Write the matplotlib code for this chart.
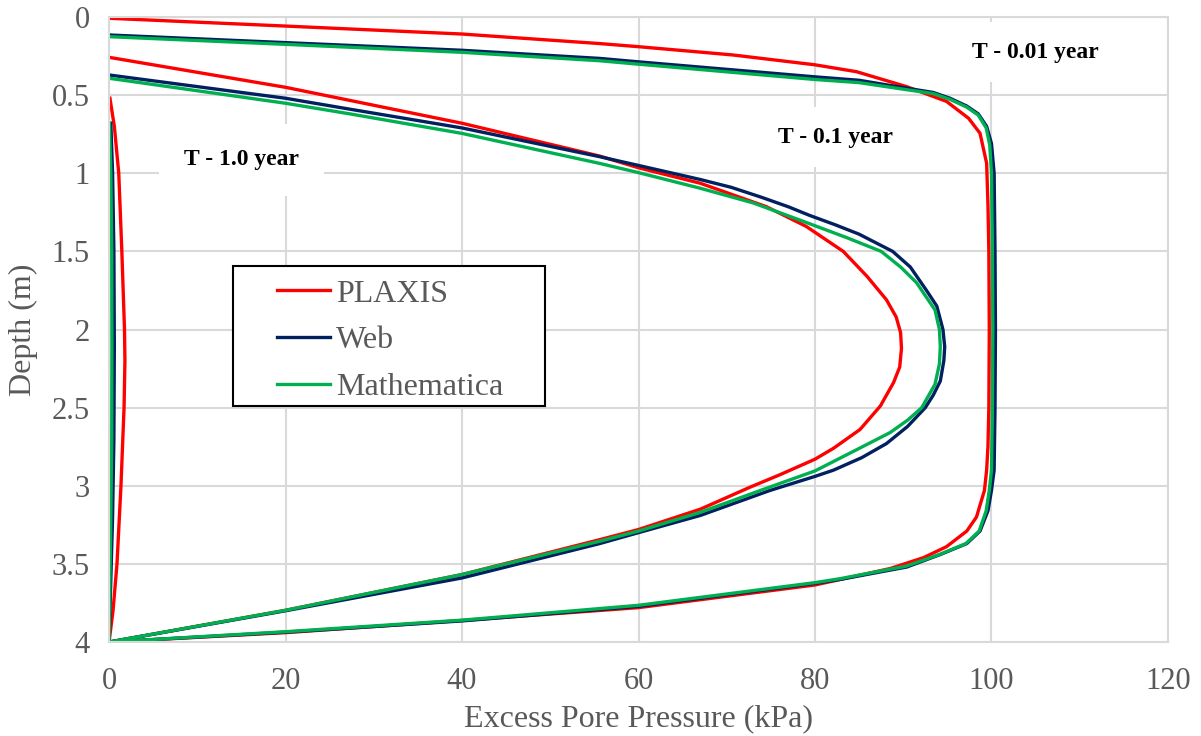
import matplotlib
matplotlib.use("Agg")
import matplotlib.pyplot as plt
from matplotlib.patches import Rectangle

# T = 0.01 year
plaxis_u_001 = [0, 20, 40, 55.6, 60, 70.7, 80, 84.7, 90.4, 94.9, 97.4, 98.7, 99.45, 99.6, 99.7, 99.75, 99.7, 99.6, 99.45, 99.2, 98.3, 97.2, 94.9, 92.3, 88.5, 80, 60, 40, 20, 0]
plaxis_z_001 = [0.008, 0.058, 0.109, 0.17, 0.19, 0.243, 0.306, 0.35, 0.446, 0.54, 0.648, 0.744, 0.936, 1.2, 1.5, 2.0, 2.5, 2.75, 2.9, 3.03, 3.2, 3.29, 3.39, 3.46, 3.53, 3.635, 3.78, 3.862, 3.94, 4.0]
web_u_001 = [0, 20, 40, 55.6, 60, 80, 85, 90, 93.4, 95.3, 97.2, 98.5, 99.45, 100.0, 100.3, 100.4, 100.45, 100.4, 100.3, 100.0, 99.6, 98.7, 97.2, 94.2, 90.4, 82.8, 80, 60, 40, 20, 0]
web_z_001 = [0.115, 0.164, 0.213, 0.265, 0.287, 0.383, 0.405, 0.452, 0.483, 0.52, 0.57, 0.62, 0.70, 0.81, 1.0, 1.5, 2.0, 2.5, 2.9, 3.03, 3.16, 3.29, 3.37, 3.44, 3.52, 3.60, 3.625, 3.772, 3.865, 3.937, 4.0]
math_u_001 = [0, 20, 40, 55.6, 60, 80, 85, 90, 93.4, 95.3, 97.2, 98.5, 99.4, 99.8, 100.0, 100.1, 100.15, 100.1, 100.0, 99.75, 99.4, 98.6, 97.1, 94.1, 90.3, 82.8, 80, 60, 40, 20, 0]
math_z_001 = [0.126, 0.175, 0.226, 0.28, 0.302, 0.40, 0.42, 0.462, 0.49, 0.527, 0.577, 0.628, 0.71, 0.82, 1.0, 1.5, 2.0, 2.5, 2.9, 3.03, 3.16, 3.29, 3.37, 3.44, 3.515, 3.595, 3.62, 3.765, 3.86, 3.934, 4.0]

# T = 0.1 year
plaxis_u_01 = [0, 20, 27.4, 40, 55.6, 60, 67, 74.5, 79, 83.2, 85.9, 88.1, 89.2, 89.7, 89.8, 89.6, 88.9, 87.4, 85.1, 82.1, 80, 76, 72.6, 67, 60, 55.6, 40, 20, 0]
plaxis_z_01 = [0.258, 0.45, 0.535, 0.68, 0.89, 0.965, 1.064, 1.214, 1.34, 1.5, 1.66, 1.81, 1.92, 2.02, 2.12, 2.24, 2.34, 2.49, 2.64, 2.76, 2.83, 2.93, 3.01, 3.15, 3.28, 3.345, 3.568, 3.797, 4.0]
web_u_01 = [0, 20, 27.4, 40, 55.6, 60, 67, 70.5, 74, 77, 79.4, 82.3, 85, 88.8, 90.8, 92.6, 93.8, 94.5, 94.7, 94.6, 94.2, 93.4, 92.5, 90.5, 88.1, 85.3, 82.1, 80, 74.9, 67, 60, 55.6, 40, 20, 0]
web_z_01 = [0.371, 0.52, 0.591, 0.71, 0.894, 0.95, 1.04, 1.09, 1.155, 1.215, 1.27, 1.33, 1.39, 1.5, 1.6, 1.747, 1.85, 2.0, 2.11, 2.2, 2.33, 2.42, 2.5, 2.62, 2.73, 2.82, 2.90, 2.94, 3.03, 3.19, 3.30, 3.37, 3.59, 3.80, 4.0]
math_u_01 = [0, 20, 27.4, 40, 55.6, 60, 67, 73, 78.3, 83.5, 87.5, 89.7, 91.5, 93.6, 94.1, 94.2, 94.1, 93.6, 92.1, 90.5, 88.5, 84, 80, 74.3, 67, 60, 55.6, 40, 20, 0]
math_z_01 = [0.392, 0.552, 0.621, 0.745, 0.937, 0.996, 1.096, 1.19, 1.30, 1.41, 1.5, 1.6, 1.70, 1.875, 2.0, 2.11, 2.22, 2.35, 2.50, 2.58, 2.66, 2.79, 2.905, 3.02, 3.17, 3.29, 3.355, 3.568, 3.797, 4.0]

# T = 1.0 year
plaxis_u_1 = [0.1, 0.6, 1.1, 1.45, 1.75, 1.8, 1.7, 1.35, 0.9, 0.45, 0]
plaxis_z_1 = [0.52, 0.7, 1.0, 1.5, 2.0, 2.2, 2.5, 3.0, 3.5, 3.8, 4.0]
web_u_1 = [0.2, 0.4, 0.55, 0.6, 0.55, 0.4, 0.2, 0]
web_z_1 = [0.68, 1.0, 1.5, 2.1, 2.7, 3.2, 3.6, 4.0]
math_u_1 = [0.05, 0.2, 0.3, 0.32, 0.3, 0.2, 0.1, 0]
math_z_1 = [0.68, 1.0, 1.5, 2.1, 2.7, 3.2, 3.6, 4.0]

plt.rcParams['font.family'] = ['Liberation Serif', 'DejaVu Serif']

fig = plt.figure(figsize=(12.01, 7.36), dpi=100)
ax = fig.add_axes([0.0908, 0.1277, 0.8817, 0.8492])

red = '#FF0000'
navy = '#002060'
green = '#00B050'
lw = 2.4

ax.plot(plaxis_u_001, plaxis_z_001, color=red, lw=lw, label='PLAXIS')
ax.plot(plaxis_u_01, plaxis_z_01, color=red, lw=lw)
ax.plot(plaxis_u_1, plaxis_z_1, color=red, lw=lw)
ax.plot(web_u_001, web_z_001, color=navy, lw=lw, label='Web')
ax.plot(web_u_01, web_z_01, color=navy, lw=lw)
ax.plot(web_u_1, web_z_1, color=navy, lw=lw)
ax.plot(math_u_001, math_z_001, color=green, lw=lw, label='Mathematica')
ax.plot(math_u_01, math_z_01, color=green, lw=lw)
ax.plot(math_u_1, math_z_1, color=green, lw=lw)

ax.set_xlim(0, 120)
ax.set_ylim(4, 0)
ax.set_xticks(range(0, 121, 20))
ax.set_yticks([0, 0.5, 1, 1.5, 2, 2.5, 3, 3.5, 4])
ax.set_yticklabels(['0', '0.5', '1', '1.5', '2', '2.5', '3', '3.5', '4'])
ax.grid(True, color='#d9d9d9', lw=1.5)
ax.set_axisbelow(True)
for s in ax.spines.values():
    s.set_color('#d9d9d9')
    s.set_linewidth(1.5)
ax.tick_params(length=0, labelsize=22, colors='#595959')
ax.tick_params(axis='x', pad=18)
ax.tick_params(axis='y', pad=14)
ax.set_xlabel('Excess Pore Pressure (kPa)', fontsize=23, color='#595959', labelpad=6)
ax.set_ylabel('Depth (m)', fontsize=23, color='#595959', labelpad=10)

ax.text(105, 0.224, 'T - 0.01 year', fontsize=17, fontweight='bold', ha='center', va='center',
        bbox=dict(facecolor='white', edgecolor='none', pad=14))
ax.text(82.3, 0.77, 'T - 0.1 year', fontsize=17, fontweight='bold', ha='center', va='center',
        bbox=dict(facecolor='white', edgecolor='none', pad=14))
ax.text(15.0, 0.915, 'T - 1.0 year', fontsize=17, fontweight='bold', ha='center', va='center',
        bbox=dict(facecolor='white', edgecolor='none', pad=18))

# legend frame
ax.add_patch(Rectangle((0.117, 0.3776), 0.295, 0.224, transform=ax.transAxes,
                       facecolor='white', edgecolor='black', lw=1.5, zorder=4))
leg = ax.legend(loc='center left', bbox_to_anchor=(0.1586, 0.482), frameon=False,
                fontsize=23, handlelength=1.65, handletextpad=0.2, labelspacing=0.55,
                borderpad=0, borderaxespad=0)
leg.set_zorder(5)
for t in leg.get_texts():
    t.set_color('#595959')

plt.savefig('out.png', dpi=100)
